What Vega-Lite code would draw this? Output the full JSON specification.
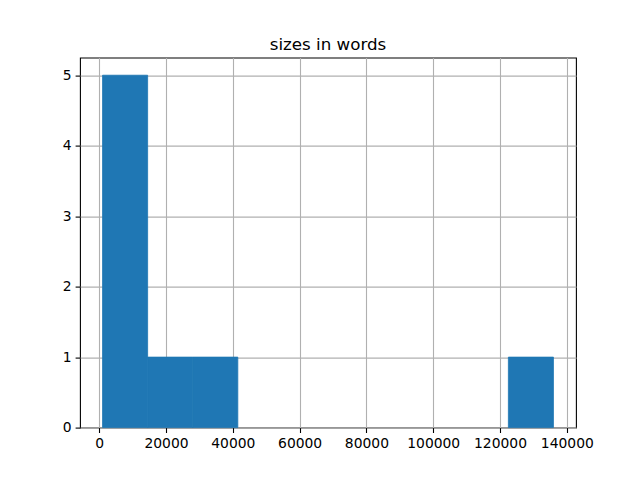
{
  "$schema": "https://vega.github.io/schema/vega-lite/v6.json",
  "width": 496,
  "height": 370,
  "autosize": {"type": "none"},
  "padding": {"left": 80, "top": 57.6, "right": 64, "bottom": 52.8},
  "background": "white",
  "title": {
    "text": "sizes in words",
    "font": "DejaVu Sans",
    "fontSize": 16.7,
    "fontWeight": "normal",
    "color": "black",
    "anchor": "middle",
    "baseline": "bottom",
    "offset": -13
  },
  "config": {
    "view": {"stroke": "black", "strokeWidth": 1.1},
    "axis": {
      "labelFont": "DejaVu Sans",
      "labelFontSize": 13.9,
      "labelColor": "black",
      "tickColor": "black",
      "tickSize": 4.9,
      "tickWidth": 1.1,
      "labelPadding": 4,
      "domain": false,
      "grid": true,
      "gridColor": "#b0b0b0",
      "gridWidth": 1.1,
      "title": null,
      "zindex": 1
    }
  },
  "data": {
    "values": [
      {"start": 1000, "end": 14500, "count": 5},
      {"start": 14500, "end": 28000, "count": 1},
      {"start": 28000, "end": 41500, "count": 1},
      {"start": 122500, "end": 136000, "count": 1}
    ]
  },
  "mark": {"type": "bar", "color": "#1f77b4", "orient": "vertical", "stroke": "#1f77b4", "strokeWidth": 0.8},
  "encoding": {
    "x": {
      "field": "start",
      "type": "quantitative",
      "scale": {"domain": [-5750, 142750], "nice": false, "zero": false, "padding": 0},
      "axis": {"values": [0, 20000, 40000, 60000, 80000, 100000, 120000, 140000], "format": "d", "labelFlush": false}
    },
    "x2": {"field": "end"},
    "y": {
      "field": "count",
      "type": "quantitative",
      "scale": {"domain": [0, 5.25], "nice": false, "padding": 0},
      "axis": {"values": [0, 1, 2, 3, 4, 5], "format": "d"}
    },
    "y2": {"datum": 0}
  }
}
